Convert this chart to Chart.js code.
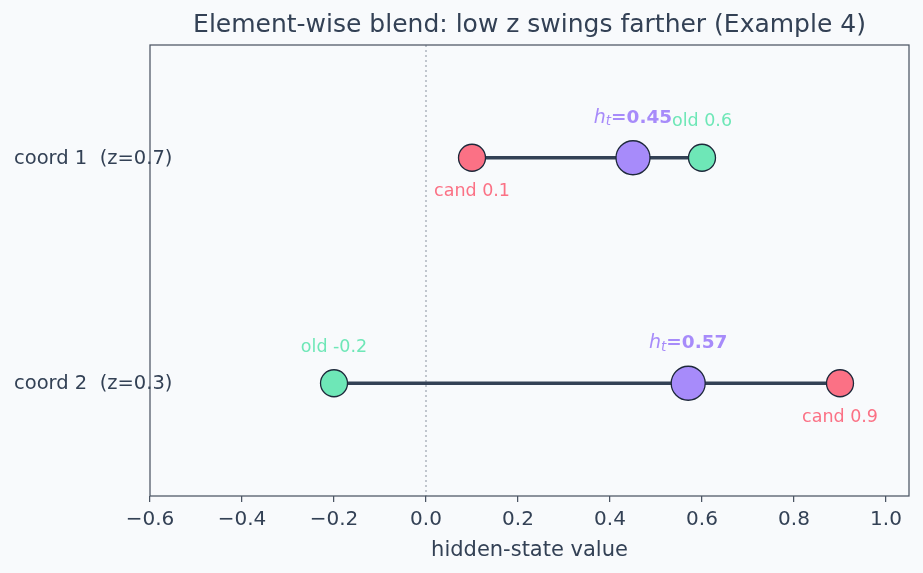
<!DOCTYPE html>
<html>
<head>
<meta charset="utf-8">
<script src="https://cdn.jsdelivr.net/npm/chart.js@4"></script>
<style>
  html, body { margin: 0; padding: 0; background: #f8fafc; overflow: hidden; }
  #wrap { width: 923px; height: 573px; }
  canvas { display: block; }
</style>
</head>
<body>
<div id="wrap"><canvas id="blend"></canvas></div>
<script>
// rows of the plot (top to bottom)
const categories = ['coord 1  (z=0.7)', 'coord 2  (z=0.3)'];
const zValues = [0.7, 0.3];
const oldValues = [0.6, -0.2];
const candValues = [0.1, 0.9];
const hValues = [0.45, 0.57];
const xTicks = [-0.6, -0.4, -0.2, 0.0, 0.2, 0.4, 0.6, 0.8, 1.0];

const TEXT = '#334155';
const SPINE = '#4b5563';
const RED = '#fb7185';
const GREEN = '#6ee7b7';
const PURPLE = '#a78bfa';
const FONT = "'DejaVu Sans', sans-serif";

document.addEventListener('DOMContentLoaded', function () {
    drawBlendChart('blend');
});

function fmtTick(v) {
    const r = Math.round(v * 10) / 10;
    return (r < 0 ? '\u2212' : '') + Math.abs(r).toFixed(1);
}

// box, zero line, row labels and value annotations
const extras = {
    id: 'extras',
    beforeDatasetsDraw(chart) {
        const { ctx, chartArea: a, scales: { x } } = chart;
        const x0 = x.getPixelForValue(0);
        ctx.save();
        ctx.strokeStyle = '#9ca3af';
        ctx.lineWidth = 1.2;
        ctx.setLineDash([2, 3]);
        ctx.beginPath();
        ctx.moveTo(x0, a.top);
        ctx.lineTo(x0, a.bottom);
        ctx.stroke();
        ctx.restore();
    },
    afterDatasetsDraw(chart) {
        const { ctx, chartArea: a, scales: { x, y } } = chart;
        ctx.save();
        ctx.strokeStyle = SPINE;
        ctx.lineWidth = 1.25;
        ctx.strokeRect(a.left, a.top, a.right - a.left, a.bottom - a.top);

        ctx.textBaseline = 'middle';
        categories.forEach((cat, i) => {
            const py = y.getPixelForValue(i);

            ctx.font = `19.5px ${FONT}`;
            ctx.fillStyle = TEXT;
            ctx.textAlign = 'left';
            ctx.fillText(cat, 14, py + 1);

            ctx.textAlign = 'center';
            ctx.font = `17.5px ${FONT}`;
            ctx.fillStyle = GREEN;
            ctx.fillText(`old ${oldValues[i]}`, x.getPixelForValue(oldValues[i]), py - 36);
            ctx.fillStyle = RED;
            ctx.fillText(`cand ${candValues[i]}`, x.getPixelForValue(candValues[i]), py + 34);

            // h_t label: italic h, subscript t, bold value
            const hx = x.getPixelForValue(hValues[i]);
            const hy = py - 40;
            ctx.fillStyle = PURPLE;
            const hFont = `italic 19px ${FONT}`;
            const tFont = `italic 13.5px ${FONT}`;
            const vFont = `bold 18.5px ${FONT}`;
            const val = `=${hValues[i].toFixed(2)}`;
            ctx.font = hFont; const wh = ctx.measureText('h').width;
            ctx.font = tFont; const wt = ctx.measureText('t').width;
            ctx.font = vFont; const wv = ctx.measureText(val).width;
            let sx = hx - (wh + wt + wv) / 2;
            ctx.textAlign = 'left';
            ctx.font = hFont; ctx.fillText('h', sx, hy); sx += wh;
            ctx.font = tFont; ctx.fillText('t', sx, hy + 4); sx += wt;
            ctx.font = vFont; ctx.fillText(val, sx, hy);
        });
        ctx.restore();
    }
};

function drawBlendChart(canvasId) {
    const canvas = document.getElementById(canvasId);
    const ctx = canvas.getContext('2d');

    const lineSets = categories.map((cat, i) => ({
        label: 'span ' + (i + 1),
        data: [{ x: oldValues[i], y: cat }, { x: candValues[i], y: cat }],
        showLine: true,
        borderColor: TEXT,
        borderWidth: 3.5,
        pointRadius: 0,
        order: 4,
    }));

    const pointSet = (label, values, color, radius, order) => ({
        label,
        data: categories.map((cat, i) => ({ x: values[i], y: cat })),
        backgroundColor: color,
        borderColor: '#1e293b',
        borderWidth: 1.3,
        pointRadius: radius,
        pointHoverRadius: radius,
        order,
    });

    new Chart(ctx, {
        type: 'scatter',
        data: {
            datasets: [
                pointSet('h_t', hValues, PURPLE, 17, 1),
                pointSet('old', oldValues, GREEN, 13.5, 2),
                pointSet('cand', candValues, RED, 13.5, 3),
                ...lineSets,
            ],
        },
        options: {
            responsive: true,
            maintainAspectRatio: false,
            animation: false,
            layout: { autoPadding: false, padding: { left: 150, right: 14, top: 10, bottom: 6 } },
            plugins: {
                legend: { display: false },
                tooltip: { enabled: false },
                title: {
                    display: true,
                    text: 'Element-wise blend: low z swings farther (Example 4)',
                    fullSize: false,
                    color: TEXT,
                    font: { family: FONT, size: 25, weight: 'normal' },
                    padding: { top: 0, bottom: 5 },
                },
            },
            scales: {
                x: {
                    type: 'linear',
                    min: -0.6,
                    max: 1.05,
                    afterBuildTicks: (s) => { s.ticks = xTicks.map(v => ({ value: v })); },
                    afterFit: (s) => { s.height = 71; s.paddingLeft = 0; s.paddingRight = 0; },
                    ticks: {
                        color: TEXT,
                        font: { family: FONT, size: 20 },
                        padding: 6,
                        callback: fmtTick,
                        maxRotation: 0,
                    },
                    grid: { drawOnChartArea: false, drawTicks: true, tickLength: 6, color: SPINE, lineWidth: 1.25 },
                    border: { display: false },
                    title: {
                        display: true,
                        text: 'hidden-state value',
                        color: TEXT,
                        font: { family: FONT, size: 21 },
                        padding: { top: 4, bottom: 4 },
                    },
                },
                y: {
                    type: 'category',
                    labels: categories,
                    offset: true,
                    afterFit: (s) => { s.width = 0; },
                    ticks: { display: false },
                    grid: { display: false, drawTicks: false },
                    border: { display: false },
                },
            },
        },
        plugins: [extras],
    });
}
</script>
</body>
</html>
